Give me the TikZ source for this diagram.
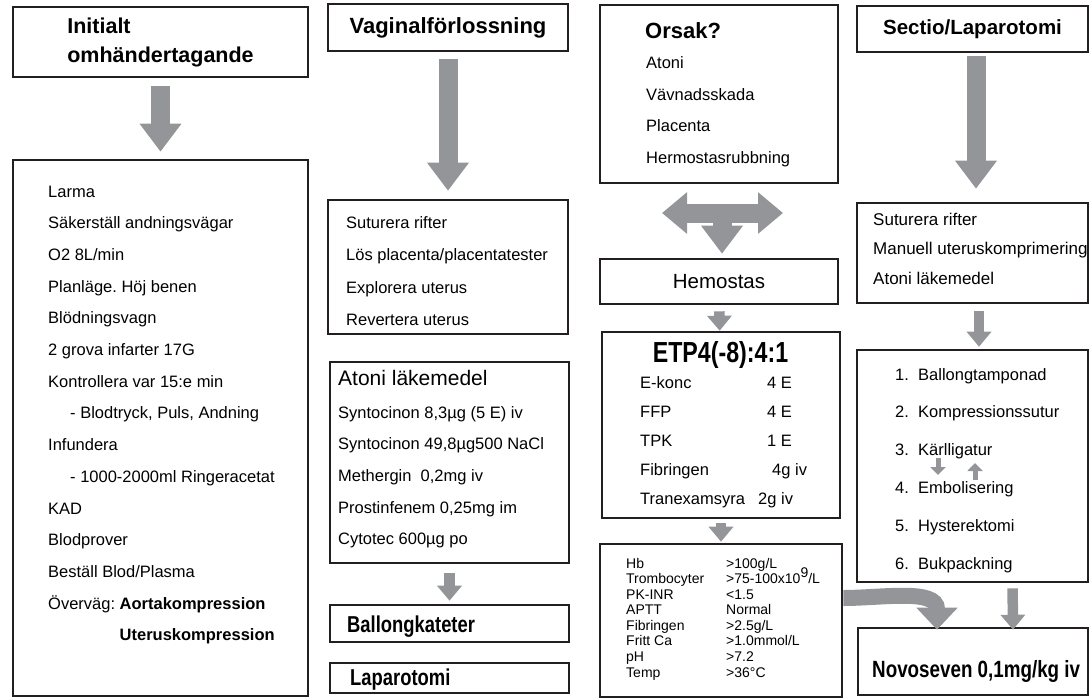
\documentclass[tikz,border=0pt]{standalone}
\usepackage{fontspec}
\setmainfont{Liberation Sans}
\newfontfamily\narrowfont[FakeStretch=0.8]{Liberation Sans}
\usetikzlibrary{arrows.meta}
\definecolor{boxline}{RGB}{35,31,32}
\definecolor{arrowgray}{RGB}{147,149,152}
\frenchspacing

\begin{document}
\begin{tikzpicture}[x=1pt, y=-1pt,
    box/.style = {draw=boxline, line width=2.6pt, inner sep=0pt},
    item/.style = {inner sep=0pt, anchor=base west, align=left, font=\fontsize{16.5}{31.7}\selectfont},
    bigarrow/.style = {arrowgray, line width=19pt, -{Triangle[length=28pt, width=40pt]}},
    midarrow/.style = {arrowgray, line width=10.5pt, -{Triangle[length=15pt, width=24pt]}},
    tinyarrow/.style = {arrowgray, line width=5pt, -{Triangle[length=8pt, width=15pt]}}]
    \useasboundingbox (0,0) rectangle (1091,699);

    % first column (text nodes sit on the baseline of their last line)
    \node[box, minimum width=295pt, minimum height=70pt, align=left, font=\fontsize{21.5}{29}\selectfont\bfseries] (init) at (160.5,42) {Initialt\\omhändertagande};
    \node[box, minimum width=295pt, minimum height=536pt] (initlist) at (160.5,428) {};
    \node[item] (initsteps) at (48,640.8) {Larma\\Säkerställ andningsvägar\\O2 8L/min\\Planläge. Höj benen\\Blödningsvagn\\2 grova infarter 17G\\Kontrollera var 15:e min\\\hspace*{22pt}- Blodtryck, Puls, Andning\\Infundera\\\hspace*{22pt}- 1000-2000ml Ringeracetat\\KAD\\Blodprover\\Beställ Blod/Plasma\\Överväg: \textbf{Aortakompression}\\\phantom{Överväg: }\textbf{Uteruskompression}};
    \draw[bigarrow, shorten <=8pt, shorten >=7pt] (init) -- (initlist);

    % second column
    \node[box, minimum width=240pt, minimum height=47pt, font=\fontsize{22}{26}\selectfont\bfseries] (vag) at (448,27.5) {Vaginalförlossning};
    \node[box, minimum width=240pt, minimum height=134pt] (vaglist) at (448,267) {};
    \node[item, font=\fontsize{16.5}{32.5}\selectfont] (vagsteps) at (346,325.5) {Suturera rifter\\Lös placenta/placentatester\\Explorera uterus\\Revertera uterus};
    \draw[bigarrow, shorten <=7pt, shorten >=8pt] (vag) -- (vaglist);

    \node[box, minimum width=239pt, minimum height=201pt] (atoni) at (449.5,462.5) {};
    \node[item, font=\fontsize{21}{25}\selectfont] (atonititle) at (338,385) {Atoni läkemedel};
    \node[item] (atonisteps) at (338,544.8) {Syntocinon 8,3µg (5 E) iv\\Syntocinon 49,8µg500 NaCl\\Methergin\ \ 0,2mg iv\\Prostinfenem 0,25mg im\\Cytotec 600µg po};

    \node[box, minimum width=239pt, minimum height=37pt] (ballong) at (449.5,623.5) {};
    \node[item, font=\narrowfont\fontsize{23}{27}\selectfont\bfseries] (ballongtext) at (347,632) {Ballongkateter};
    \draw[midarrow, shorten <=9pt, shorten >=3pt] (atoni) -- (ballong);

    \node[box, minimum width=239pt, minimum height=30pt] (lapar) at (449.5,678) {};
    \node[item, font=\narrowfont\fontsize{23}{27}\selectfont\bfseries] (lapartext) at (350,685) {Laparotomi};

    % third column
    \node[box, minimum width=238pt, minimum height=178pt] (orsak) at (719,94) {};
    \node[item, font=\fontsize{22}{26}\selectfont\bfseries] (orsaktitle) at (645,38) {Orsak?};
    \node[item, font=\fontsize{16.5}{31.6}\selectfont] (orsaksteps) at (646,163.3) {Atoni\\Vävnadsskada\\Placenta\\Hermostasrubbning};

    \node[box, minimum width=238pt, minimum height=45pt, font=\fontsize{20.5}{24}\selectfont] (hemo) at (719,281.5) {Hemostas};
    \coordinate (leftend) at (662,213);
    \coordinate (rightend) at (783,213);
    \draw[bigarrow, {Triangle[length=25pt, width=40pt]}-{Triangle[length=25pt, width=40pt]}] (leftend) -- (rightend);
    \draw[bigarrow, shorten <=20pt, shorten >=4pt] ([xshift=3pt]orsak.south) -- ([xshift=3pt]hemo.north);

    \node[box, minimum width=238pt, minimum height=186pt] (etp) at (721,425) {};
    \node[inner sep=0pt, anchor=base, font=\narrowfont\fontsize{29}{32}\selectfont\bfseries] (etptitle) at (720.5,362) {ETP4(-8):4:1};
    \node[item, font=\fontsize{16.5}{29}\selectfont] (etpsteps) at (640,504) {\makebox[127pt][l]{E-konc}4 E\\\makebox[127pt][l]{FFP}4 E\\\makebox[127pt][l]{TPK}1 E\\\makebox[132pt][l]{Fibringen}4g iv\\\makebox[118pt][l]{Tranexamsyra}2g iv};
    \draw[midarrow, shorten <=6pt] (hemo) -- (etp);

    \node[box, minimum width=242pt, minimum height=153pt] (labs) at (721,620.5) {};
    \node[item, font=\fontsize{14}{15.57}\selectfont] (labvalues) at (626,677) {\makebox[100pt][l]{Hb}>100g/L\\\makebox[100pt][l]{Trombocyter}>75-100x10\smash{\raisebox{6.5pt}{9}}/L\\\makebox[100pt][l]{PK-INR}<1.5\\\makebox[100pt][l]{APTT}Normal\\\makebox[100pt][l]{Fibringen}>2.5g/L\\\makebox[100pt][l]{Fritt Ca}>1.0mmol/L\\\makebox[100pt][l]{pH}>7.2\\\makebox[100pt][l]{Temp}>36°C};
    \draw[midarrow, shorten <=4pt, shorten >=1pt] (etp) -- (labs);

    % fourth column
    \node[box, minimum width=231pt, minimum height=46pt, font=\fontsize{20.5}{24}\selectfont\bfseries] (sectio) at (972.5,29) {Sectio/Laparotomi};
    \node[box, minimum width=231pt, minimum height=100pt] (seclist) at (972.5,253) {};
    \node[item, font=\fontsize{17}{29.5}\selectfont] (secsteps) at (873,284) {Suturera rifter\\Manuell uteruskomprimering\\Atoni läkemedel};
    \draw[bigarrow, shorten <=3pt, shorten >=13pt] ([xshift=3.5pt]sectio.south) -- ([xshift=3.5pt]seclist.north);

    \node[box, minimum width=231pt, minimum height=232pt] (numlist) at (972.5,466) {};
    \node[item, font=\fontsize{16.5}{37.9}\selectfont] (numsteps) at (895,569.5) {\makebox[23pt][l]{1.}Ballongtamponad\\\makebox[23pt][l]{2.}Kompressionssutur\\\makebox[23pt][l]{3.}Kärlligatur\\\makebox[23pt][l]{4.}Embolisering\\\makebox[23pt][l]{5.}Hysterektomi\\\makebox[23pt][l]{6.}Bukpackning};
    \draw[midarrow, shorten <=7pt, shorten >=2pt] ([xshift=6.5pt]seclist.south) -- ([xshift=6.5pt]numlist.north);
    \coordinate (downtop) at (938,458);
    \coordinate (downtip) at (938,475);
    \coordinate (upbottom) at (975,480);
    \coordinate (uptip) at (975,463);
    \draw[tinyarrow] (downtop) -- (downtip);
    \draw[tinyarrow] (upbottom) -- (uptip);

    \node[box, minimum width=230pt, minimum height=67pt] (novo) at (973,661.5) {};
    \node[item, font=\narrowfont\fontsize{23.5}{27}\selectfont\bfseries] (novotext) at (872,677) {Novoseven 0,1mg/kg iv};
    \draw[midarrow, shorten <=5pt, shorten >=-3pt] ([xshift=40pt]numlist.south) -- ([xshift=40pt]novo.north);
    \draw[arrowgray, line width=16pt, -{Triangle[length=22pt, width=40pt]}, shorten >=-3pt] ([yshift=22.5pt]labs.east) to[out=0, in=90] ([xshift=-36pt]novo.north);
\end{tikzpicture}
\end{document}
